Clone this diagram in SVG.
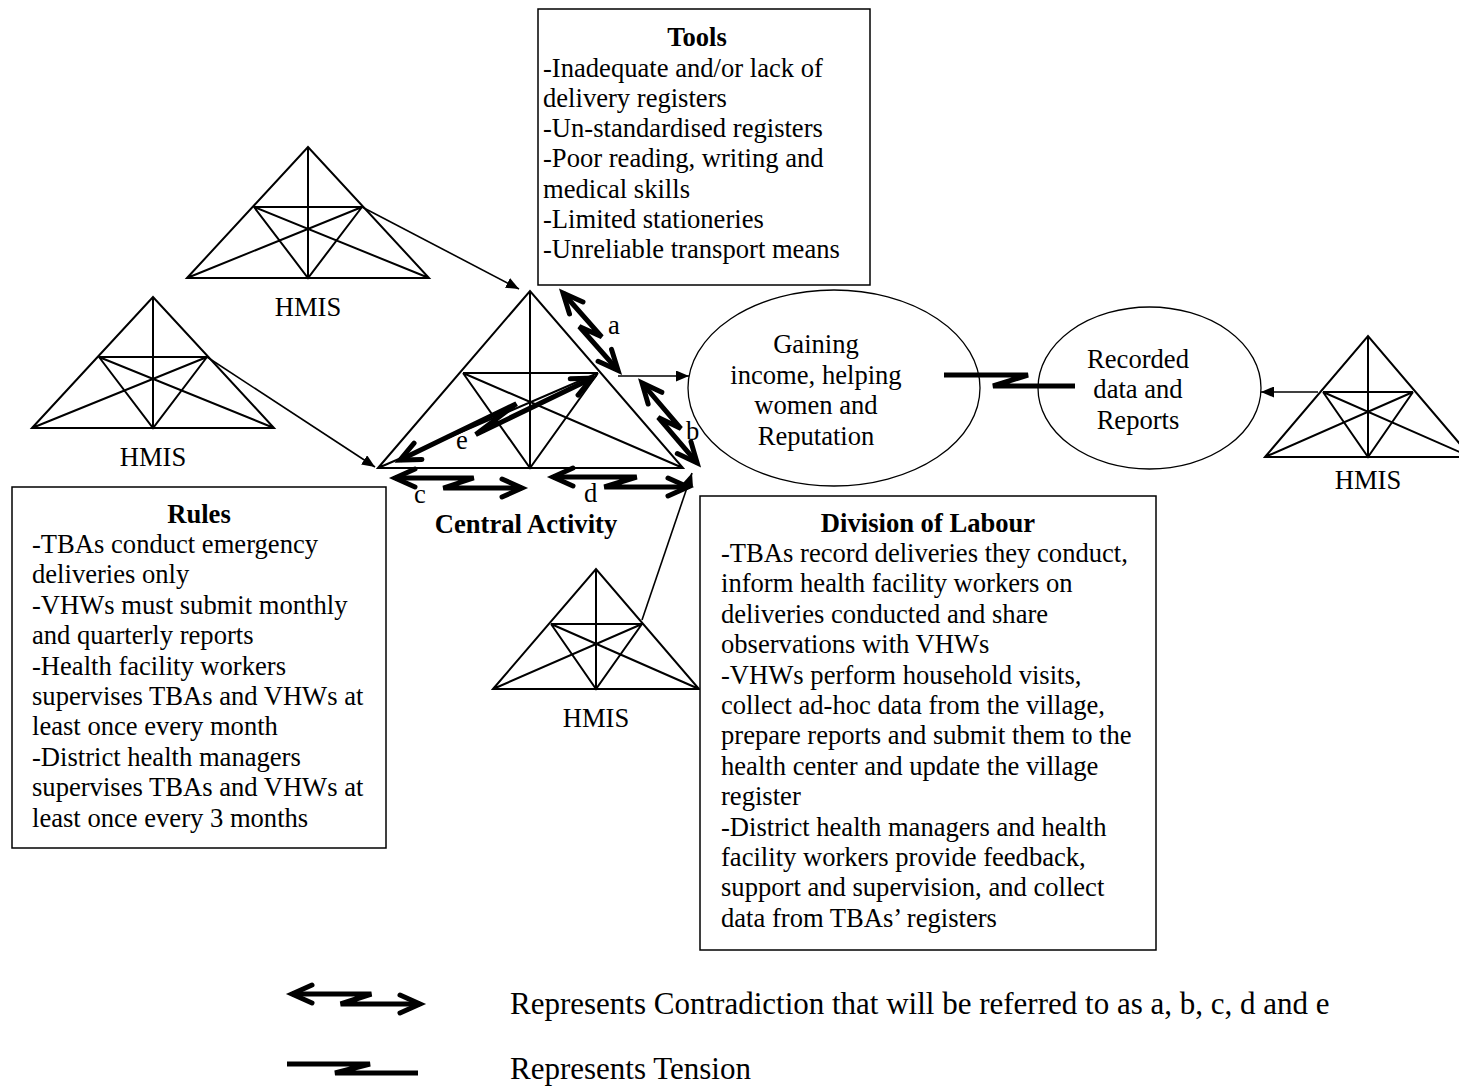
<svg xmlns="http://www.w3.org/2000/svg" width="1459" height="1087" viewBox="0 0 1459 1087">
  <style>
    text { font-family: "Liberation Serif", "Times New Roman", serif; font-size: 26.6px; fill: #000; }
    .title { font-weight: bold; text-anchor: middle; }
    .mid { text-anchor: middle; }
    .legend { font-size: 31px; }
    .tri { fill: none; stroke: #000; stroke-width: 2; stroke-linejoin: miter; }
    .box { fill: #fff; stroke: #000; stroke-width: 1.5; }
    .oval { fill: #fff; stroke: #000; stroke-width: 1.3; }
    .link { fill: none; stroke: #000; stroke-width: 1.6; marker-end: url(#head); }
    .zz { fill: none; stroke: #000; stroke-width: 5; stroke-linejoin: miter; stroke-miterlimit: 3; }
    .zz-tip { fill: none; stroke: #000; stroke-width: 5; stroke-linecap: round; stroke-linejoin: miter; }
  </style>
  <defs>
    <marker id="head" markerUnits="userSpaceOnUse" markerWidth="14" markerHeight="11" refX="13" refY="5.5" orient="auto">
      <path d="M0,0 L13,5.5 L0,11 Z" fill="#000"/>
    </marker>
  </defs>
  <rect width="1459" height="1087" fill="#fff"/>

  <!-- activity-system triangles -->
  <g id="hmis-top-left">
    <path class="tri" d="M187,278 L308,147 L429,278 Z M308,147 V278 M254,207 H362 M254,207 L308,278 L362,207 M254,207 L429,278 M362,207 L187,278"/>
    <text class="mid" x="308" y="316">HMIS</text>
  </g>
  <g id="hmis-left">
    <path class="tri" d="M32,428 L153,297 L274,428 Z M153,297 V428 M99,357 H207 M99,357 L153,428 L207,357 M99,357 L274,428 M207,357 L32,428"/>
    <text class="mid" x="153" y="466">HMIS</text>
  </g>
  <g id="central-activity">
    <path class="tri" d="M378,468 L530,291 L683,468 Z M530,291 V468 M463,373 H598 M463,373 L530,468 L598,373 M463,373 L683,468 M598,373 L378,468"/>
    <text class="title" x="526" y="533">Central Activity</text>
  </g>
  <g id="hmis-bottom">
    <path class="tri" d="M493,689 L596,569 L699,689 Z M596,569 V689 M551,624 H642 M551,624 L596,689 L642,624 M551,624 L699,689 M642,624 L493,689"/>
    <text class="mid" x="596" y="727">HMIS</text>
  </g>
  <g id="hmis-right">
    <path class="tri" d="M1265,457 L1368,336 L1471,457 Z M1368,336 V457 M1323,392 H1413 M1323,392 L1368,457 L1413,392 M1323,392 L1471,457 M1413,392 L1265,457"/>
    <text class="mid" x="1368" y="489">HMIS</text>
  </g>

  <!-- text boxes -->
  <g id="tools">
    <rect class="box" x="538" y="9" width="332" height="276"/>
    <text class="title" x="697" y="46">Tools</text>
    <text x="543" y="77">-Inadequate and/or lack of</text>
    <text x="543" y="107">delivery registers</text>
    <text x="543" y="137">-Un-standardised registers</text>
    <text x="543" y="167">-Poor reading, writing and</text>
    <text x="543" y="198">medical skills</text>
    <text x="543" y="228">-Limited stationeries</text>
    <text x="543" y="258">-Unreliable transport means</text>
  </g>
  <g id="rules">
    <rect class="box" x="12" y="487" width="374" height="361"/>
    <text class="title" x="199" y="523">Rules</text>
    <text x="32" y="553">-TBAs conduct emergency</text>
    <text x="32" y="583.4">deliveries only</text>
    <text x="32" y="613.8">-VHWs must submit monthly</text>
    <text x="32" y="644.2">and quarterly reports</text>
    <text x="32" y="674.6">-Health facility workers</text>
    <text x="32" y="705">supervises TBAs and VHWs at</text>
    <text x="32" y="735.4">least once every month</text>
    <text x="32" y="765.8">-District health managers</text>
    <text x="32" y="796.2">supervises TBAs and VHWs at</text>
    <text x="32" y="826.6">least once every 3 months</text>
  </g>
  <g id="division-of-labour">
    <rect class="box" x="700" y="496" width="456" height="454"/>
    <text class="title" x="928" y="532">Division of Labour</text>
    <text x="721" y="562">-TBAs record deliveries they conduct,</text>
    <text x="721" y="592.4">inform health facility workers on</text>
    <text x="721" y="622.8">deliveries conducted and share</text>
    <text x="721" y="653.2">observations with VHWs</text>
    <text x="721" y="683.6">-VHWs perform household visits,</text>
    <text x="721" y="714">collect ad-hoc data from the village,</text>
    <text x="721" y="744.4">prepare reports and submit them to the</text>
    <text x="721" y="774.8">health center and update the village</text>
    <text x="721" y="805.2">register</text>
    <text x="721" y="835.6">-District health managers and health</text>
    <text x="721" y="866">facility workers provide feedback,</text>
    <text x="721" y="896.4">support and supervision, and collect</text>
    <text x="721" y="926.8">data from TBAs’ registers</text>
  </g>

  <!-- outcome ovals -->
  <g id="outcome">
    <ellipse class="oval" cx="834" cy="388" rx="146" ry="98"/>
    <text class="mid" x="816" y="353">Gaining</text>
    <text class="mid" x="816" y="384">income, helping</text>
    <text class="mid" x="816" y="414">women and</text>
    <text class="mid" x="816" y="445">Reputation</text>
  </g>
  <g id="records">
    <ellipse class="oval" cx="1149.5" cy="388" rx="111.5" ry="81"/>
    <text class="mid" x="1138" y="368">Recorded</text>
    <text class="mid" x="1138" y="398">data and</text>
    <text class="mid" x="1138" y="429">Reports</text>
  </g>

  <!-- connectors -->
  <g id="connectors">
    <path class="link" d="M362,207 L519,289"/>
    <path class="link" d="M207,357 L375,467"/>
    <path class="link" d="M618,376 L689,376"/>
    <path class="link" d="M642,620 L692,473"/>
    <path class="link" d="M1318,392 L1261,392"/>

    <!-- tension between outcome and records -->
    <path class="zz" d="M944,375 H1028 L993,386 H1075"/>

    <!-- contradictions a to e -->
    <g transform="translate(563,293) rotate(48.5)">
      <path class="zz" d="M0,0 H58.5 L35.9,10 H94.4"/>
      <path class="zz-tip" d="M20,-9 L0,0 L20,9 M74.4,1 L94.4,10 L74.4,19"/>
    </g>
    <g transform="translate(642,383) rotate(49.5)">
      <path class="zz" d="M0,0 H59.9 L36.7,10 H96.6"/>
      <path class="zz-tip" d="M20,-9 L0,0 L20,9 M76.6,1 L96.6,10 L76.6,19"/>
    </g>
    <g transform="translate(395,478)">
      <path class="zz" d="M0,0 H78.7 L48.3,10 H127"/>
      <path class="zz-tip" d="M20,-9 L0,0 L20,9 M107,1 L127,10 L107,19"/>
    </g>
    <g transform="translate(553,477)">
      <path class="zz" d="M0,0 H83.7 L51.3,10 H135"/>
      <path class="zz-tip" d="M20,-9 L0,0 L20,9 M115,1 L135,10 L115,19"/>
    </g>
    <g transform="translate(400,460) rotate(-25.8)">
      <path class="zz" d="M0,0 H129.3 L79.3,10 H208.6"/>
      <path class="zz-tip" d="M20,-9 L0,0 L20,9 M188.6,1 L208.6,10 L188.6,19"/>
    </g>
    <text x="608" y="334">a</text>
    <text x="686" y="440">b</text>
    <text x="414" y="503">c</text>
    <text x="584" y="502">d</text>
    <text x="456" y="449">e</text>
  </g>

  <!-- key -->
  <g id="legend">
    <g transform="translate(292,994)">
      <path class="zz" d="M0,0 H79.4 L48.6,10 H128"/>
      <path class="zz-tip" d="M20,-9 L0,0 L20,9 M108,1 L128,10 L108,19"/>
    </g>
    <path class="zz" d="M287,1064 H370 L335,1073 H418"/>
    <text class="legend" x="510" y="1014">Represents Contradiction that will be referred to as a, b, c, d and e</text>
    <text class="legend" x="510" y="1079">Represents Tension</text>
  </g>
</svg>
